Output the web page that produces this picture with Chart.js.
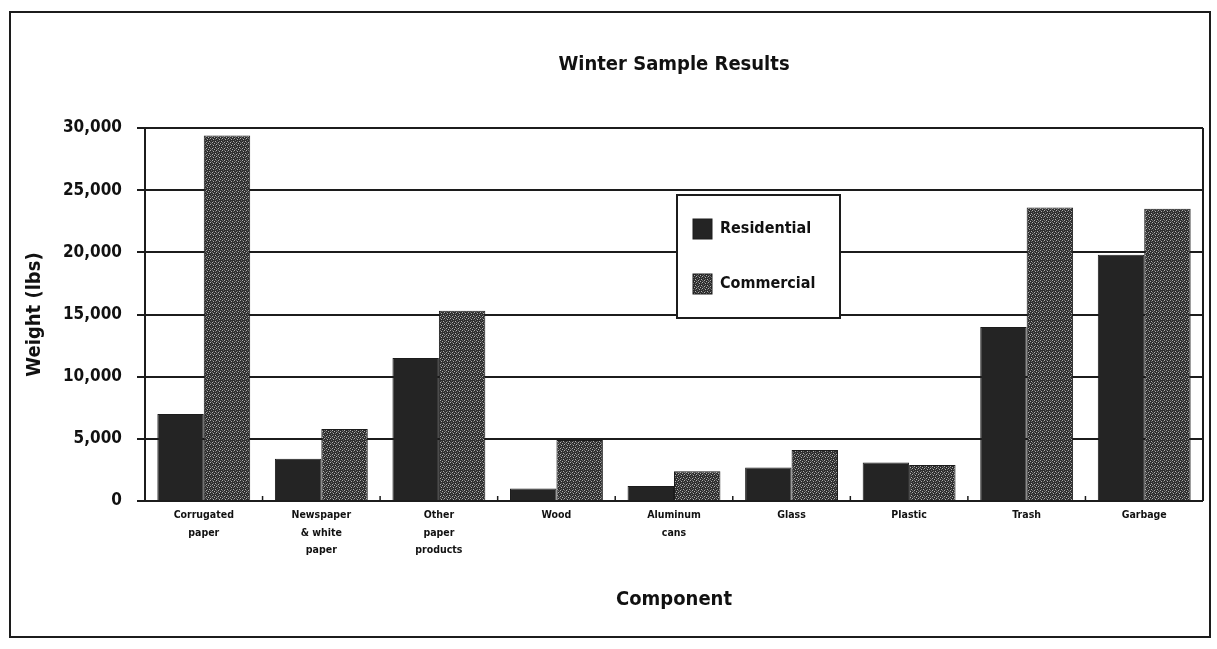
<!DOCTYPE html>
<html>
<head>
<meta charset="utf-8">
<script src="https://cdn.jsdelivr.net/npm/chart.js@4/dist/chart.umd.min.js"></script>
<style>
  html, body { margin: 0; padding: 0; background: #fff; }
  #wrap { position: relative; width: 1217px; height: 649px; }
</style>
</head>
<body>
<div id="wrap"><canvas id="c" width="1217" height="649"></canvas></div>
<script>
const categories = [
  ["Corrugated", "paper"],
  ["Newspaper", "& white", "paper"],
  ["Other", "paper", "products"],
  ["Wood"],
  ["Aluminum", "cans"],
  ["Glass"],
  ["Plastic"],
  ["Trash"],
  ["Garbage"]
];
const residential = [7000, 3400, 11500, 1000, 1200, 2700, 3100, 14000, 19800];
const commercial  = [29400, 5800, 15300, 4900, 2400, 4100, 2900, 23600, 23500];
const seriesNames = ["Residential", "Commercial"];
const yTicks = [0, 5000, 10000, 15000, 20000, 25000, 30000];

const FONT = "'DejaVu Sans Condensed', 'Liberation Sans Narrow', 'DejaVu Sans', sans-serif";
const INK = '#1c1c1c';

// speckled pattern for Commercial
function makePattern() {
  const pc = document.createElement('canvas');
  pc.width = 6; pc.height = 6;
  const g = pc.getContext('2d');
  g.fillStyle = '#2e2e2e';
  g.fillRect(0, 0, 6, 6);
  g.fillStyle = '#b0b0b0';
  [[0,0],[3,1],[5,3],[2,4],[4,5]].forEach(([x,y]) => g.fillRect(x, y, 1, 1));
  g.fillStyle = '#6a6a6a';
  [[2,0],[5,1],[1,2],[3,3],[1,5],[0,4]].forEach(([x,y]) => g.fillRect(x, y, 1, 1));
  return g.createPattern(pc, 'repeat');
}
const ctx0 = document.getElementById('c').getContext('2d');
const commercialFill = makePattern();
const residentialFill = '#242424';

const framePlugin = {
  id: 'frame',
  afterDraw(chart) {
    const c = chart.ctx, a = chart.chartArea;
    c.save();
    c.strokeStyle = INK;
    c.lineWidth = 2;
    c.strokeRect(10, 12, 1200, 625);
    c.beginPath();
    c.moveTo(a.right, a.top);
    c.lineTo(a.right, a.bottom);
    c.stroke();
    const xs = chart.scales.x;
    const half = (xs.getPixelForValue(1) - xs.getPixelForValue(0)) / 2;
    c.lineWidth = 1.5;
    for (let i = 0; i < categories.length - 1; i++) {
      const px = xs.getPixelForValue(i) + half;
      c.beginPath();
      c.moveTo(px, a.bottom);
      c.lineTo(px, a.bottom - 5);
      c.stroke();
    }
    c.restore();
  }
};

const legendPlugin = {
  id: 'boxLegend',
  afterDatasetsDraw(chart) {
    const c = chart.ctx, a = chart.chartArea;
    const x = a.left + 532, y = a.top + 67, w = 163, h = 123;
    c.save();
    c.fillStyle = '#fff';
    c.fillRect(x, y, w, h);
    c.strokeStyle = INK;
    c.lineWidth = 2;
    c.strokeRect(x, y, w, h);
    const rows = [y + 34, y + 89];
    c.font = "bold 16px " + FONT;
    c.textBaseline = 'middle';
    c.textAlign = 'left';
    chart.data.datasets.forEach((d, i) => {
      c.fillStyle = d.backgroundColor;
      c.fillRect(x + 16, rows[i] - 10, 19, 20);
      c.strokeStyle = INK;
      c.lineWidth = 1;
      c.strokeRect(x + 16, rows[i] - 10, 19, 20);
      c.fillStyle = '#111';
      c.fillText(d.label, x + 43, rows[i]);
    });
    c.restore();
  }
};

new Chart(ctx0, {
  type: 'bar',
  data: {
    labels: categories,
    datasets: [
      { label: seriesNames[0], data: residential, backgroundColor: residentialFill,
        borderColor: INK, borderWidth: 1, categoryPercentage: 0.79, barPercentage: 1.0 },
      { label: seriesNames[1], data: commercial, backgroundColor: commercialFill,
        borderColor: INK, borderWidth: 1, categoryPercentage: 0.79, barPercentage: 1.0 }
    ]
  },
  options: {
    responsive: false,
    animation: false,
    devicePixelRatio: 1,
    layout: { padding: { left: 14, right: 14, top: 0, bottom: 12 } },
    plugins: {
      legend: { display: false },
      tooltip: { enabled: false },
      title: {
        display: true,
        fullSize: false,
        text: 'Winter Sample Results',
        color: '#111',
        font: { family: FONT, size: 20, weight: 'bold' },
        padding: { top: 53, bottom: 51 }
      }
    },
    scales: {
      x: {
        grid: { display: false },
        border: { display: false },
        ticks: {
          color: '#111',
          font: { family: FONT, size: 10.5, weight: 'bold', lineHeight: 1.65 },
          padding: -2,
          maxRotation: 0,
          autoSkip: false
        },
        title: {
          display: true,
          text: 'Component',
          color: '#111',
          font: { family: FONT, size: 20, weight: 'bold' },
          padding: { top: 0, bottom: 25 }
        },
        afterFit(scale) { scale.height = 136; }
      },
      y: {
        min: 0,
        max: 30000,
        afterBuildTicks(scale) { scale.ticks = yTicks.map(v => ({ value: v })); },
        grid: { color: INK, lineWidth: 2, tickLength: 8, drawTicks: true },
        border: { display: true, color: INK, width: 2 },
        ticks: {
          color: '#111',
          padding: 15,
          font: { family: FONT, size: 17, weight: 'bold' },
          callback: v => v.toLocaleString('en-US')
        },
        title: {
          display: true,
          text: 'Weight (lbs)',
          color: '#111',
          font: { family: FONT, size: 20, weight: 'bold' },
          padding: { top: 9, bottom: 0 }
        },
        afterFit(scale) { scale.width = 131; }
      }
    }
  },
  plugins: [framePlugin, legendPlugin]
});
</script>
</body>
</html>
